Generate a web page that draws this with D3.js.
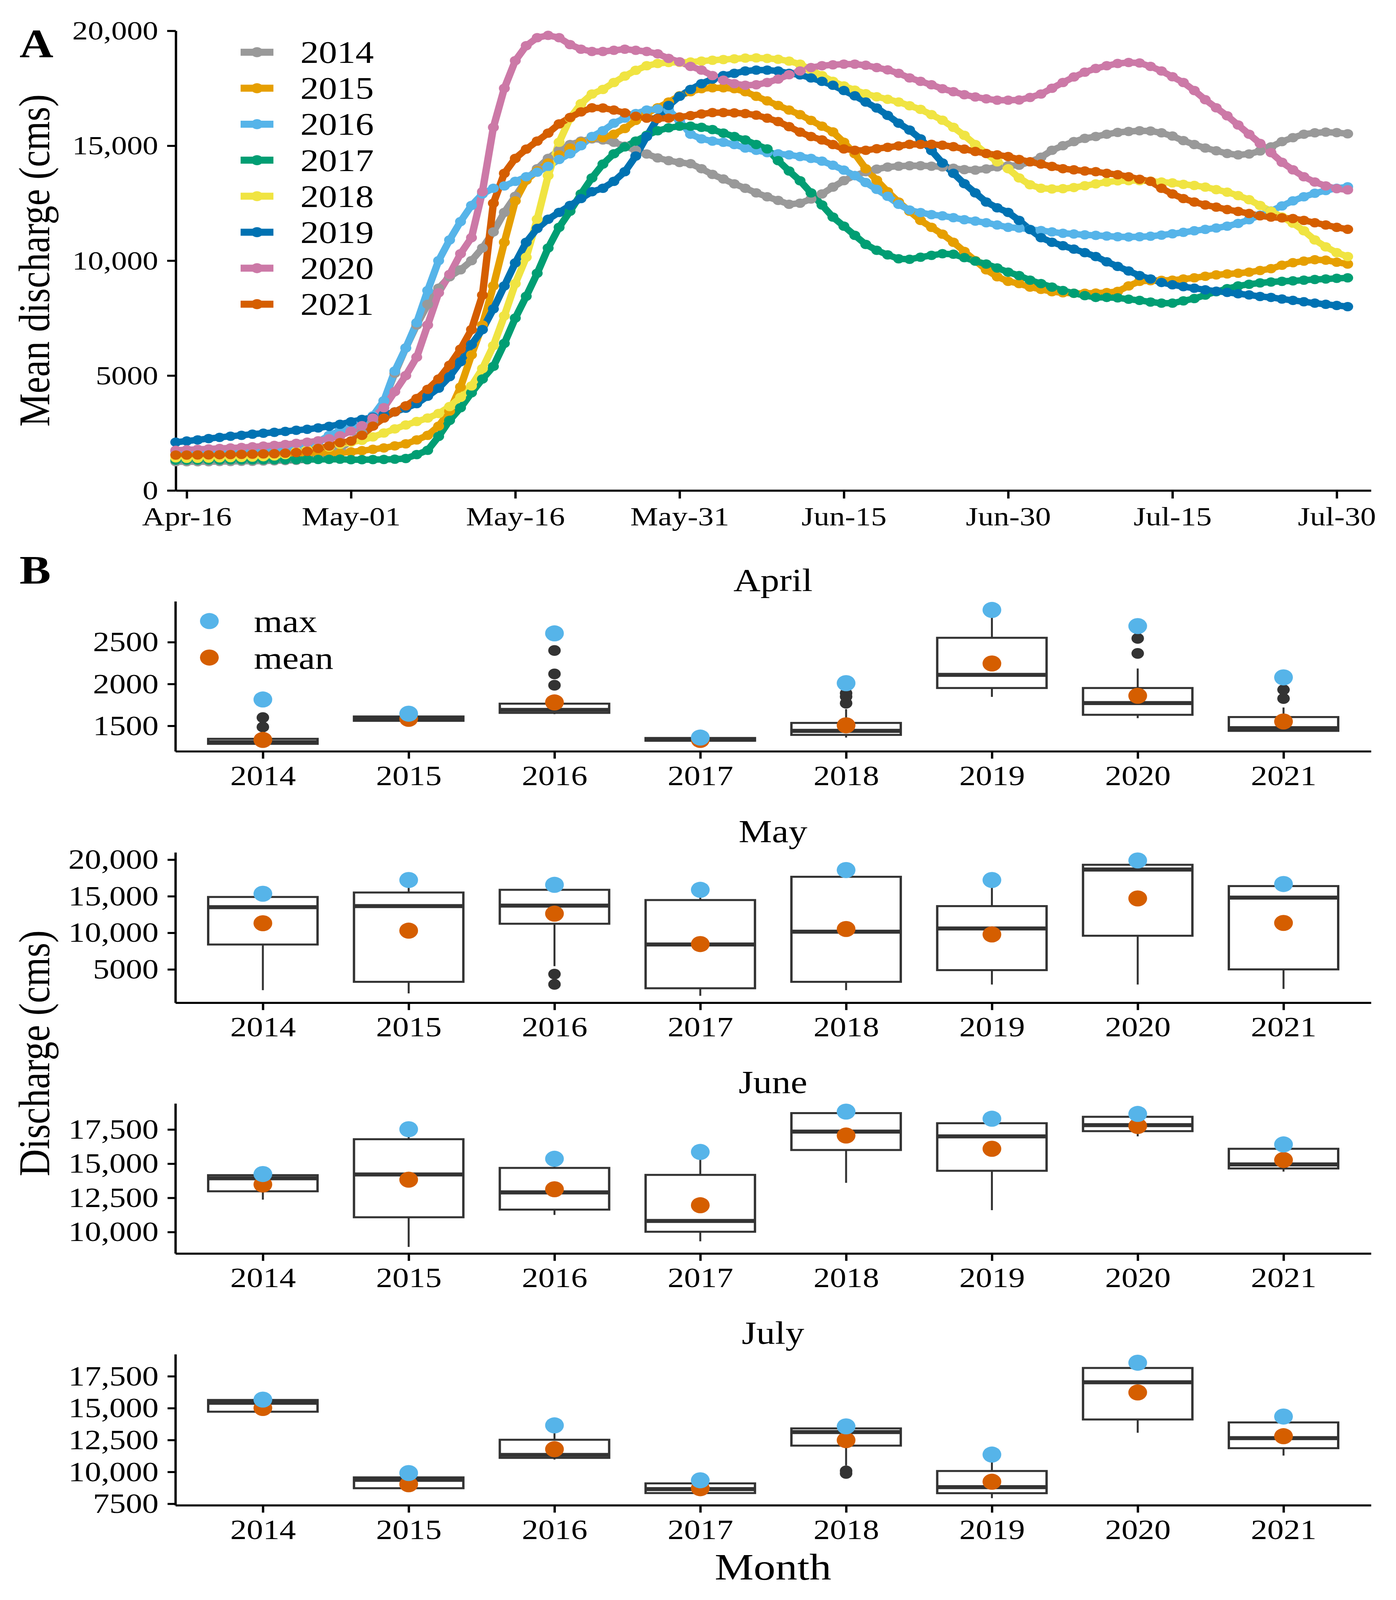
<!DOCTYPE html>
<html><head><meta charset="utf-8">
<script src="https://cdn.jsdelivr.net/npm/d3@7"></script>
<style>html,body{margin:0;padding:0;background:#fff;overflow:hidden} svg{display:block;width:100vw;height:100vh} text{font-family:"Liberation Serif","Times New Roman",serif;}</style>
</head><body>
<svg id="c" viewBox="0 0 3574 4779" preserveAspectRatio="none" xmlns="http://www.w3.org/2000/svg"></svg>
<script>
// ---------- DATA ----------
const years = ["2014","2015","2016","2017","2018","2019","2020","2021"];
const yearColors = ["#999999","#E69F00","#56B4E9","#009E73","#F0E442","#0072B2","#CC79A7","#D55E00"];

// daily mean discharge, Apr-15 (day 0) .. Jul-31 (day 107)
const q2014 = [1250,1250,1250,1250,1260,1260,1270,1270,1280,1290,1300,1310,1330,
 1490,1600,1810,2150,2500,3000,3900,5100,6200,7200,8100,
 8800,9300,9600,10000,10550,11250,12100,12800,13500,14000,14450,14800,15050,15200,15300,
 15250,15150,14980,14800,14640,14470,14350,14270,14220,14000,13750,13550,13340,13150,12950,12780,12620,12450,
 12500,12680,12900,13200,13480,13700,13870,13980,14070,14110,14130,14130,14110,14080,14020,13960,13940,13990,14080,14130,14150,
 14300,14500,14800,15000,15180,15320,15400,15500,15580,15620,15650,15640,15560,15420,15220,15050,14900,14780,14660,14600,14640,14770,14950,15180,15350,15500,15560,15590,15570,15520];
const q2015 = [1560,1560,1570,1570,1580,1580,1580,1590,1590,1590,1600,1600,1610,1610,1620,1630,
 1680,1730,1790,1850,1940,2030,2200,2400,2800,3450,4500,5900,7200,8900,10800,12600,
 13500,13900,14250,14600,14900,15150,15350,15350,15500,15750,16100,16400,16650,16900,17170,
 17350,17480,17520,17520,17480,17350,17150,16950,16750,16550,16350,16100,15850,15600,15150,14650,14000,13500,13000,12550,12150,11750,11450,11150,10800,10400,10000,9600,9300,9100,
 9000,8850,8750,8650,8600,8580,8580,8590,8610,8660,8900,9100,9130,9140,9150,9200,9250,9320,9380,9420,9450,9500,9570,9650,9800,9910,9980,10040,10020,9930,9850];
const q2016 = [1700,1690,1680,1680,1690,1700,1710,1720,1730,1740,1750,1780,1980,2120,2400,2600,
 2750,2950,3250,3900,5200,6200,7300,8700,10000,10900,11700,12400,12900,13150,13250,13450,
 13650,13850,14100,14400,14650,15000,15400,15650,15980,16200,16400,16550,16600,16550,16100,
 15500,15300,15200,15150,15050,14900,14800,14700,14650,14600,14530,14450,14330,14150,13940,13700,13400,13100,12800,12450,12200,12090,12000,11950,11870,11780,11720,11650,11550,11450,
 11420,11360,11310,11250,11190,11160,11120,11100,11070,11040,11030,11040,11060,11110,11170,11230,11300,11360,11420,11500,11620,11780,11980,12160,12380,12600,12780,12930,13050,13150,13210];
const q2017 = [1320,1320,1320,1325,1325,1330,1330,1330,1335,1335,1340,1340,1345,1350,1355,1360,
 1340,1340,1345,1350,1360,1390,1560,1750,2350,3050,3600,4250,4850,5400,6400,7500,
 8450,9450,10550,11450,12150,12900,13600,14200,14650,14950,15200,15450,15650,15780,15850,
 15850,15800,15700,15550,15400,15250,15050,14860,14350,13900,13475,12950,12420,11893,11500,11100,10705,10450,10250,10080,10060,10150,10230,10300,10280,10130,9980,9850,9680,9500,
 9350,9150,9000,8850,8700,8580,8480,8400,8400,8380,8320,8270,8200,8150,8150,8250,8350,8500,8650,8780,8900,8970,9030,9070,9100,9120,9150,9180,9200,9230,9250];
const q2018 = [1420,1400,1400,1410,1420,1430,1440,1450,1470,1500,1560,1700,1770,1850,1890,2010,
 2100,2180,2330,2500,2680,2850,3000,3150,3350,3650,4050,4550,5300,6300,7600,9000,
 10150,11800,13700,15150,16200,16830,17250,17450,17750,18030,18280,18480,18580,18620,18630,
 18640,18680,18720,18750,18780,18810,18820,18800,18760,18680,18550,18300,18050,17800,17600,17420,17260,17130,17020,16900,16740,16580,16350,16110,15800,15450,15050,14660,14300,14000,
 13600,13300,13150,13120,13130,13180,13260,13340,13420,13470,13480,13480,13460,13420,13380,13320,13270,13200,13090,12980,12830,12650,12400,12150,11900,11630,11300,10900,10600,10350,10180];
const q2019 = [2100,2150,2200,2260,2310,2360,2400,2450,2490,2530,2570,2620,2660,2720,2790,2880,
 2990,3090,3190,3300,3420,3580,3780,4100,4450,4950,5600,6350,7000,7900,8900,9900,
 10800,11400,11800,12100,12400,12700,13000,13150,13450,13870,14550,15400,16200,16750,17150,
 17450,17700,17900,18050,18150,18250,18290,18290,18250,18150,18080,17950,17800,17630,17400,17170,16900,16640,16320,15980,15680,15300,14790,14250,13800,13350,12950,12550,12300,12100,
 11750,11350,11000,10800,10650,10500,10350,10180,9950,9750,9550,9350,9200,9050,8950,8870,8800,8730,8670,8620,8560,8510,8440,8400,8330,8270,8210,8150,8100,8050,8000];
const q2020 = [1750,1770,1790,1810,1830,1850,1870,1900,1930,1960,2000,2050,2100,2160,2250,2380,
 2580,2820,3150,3600,4300,5000,5800,7200,8600,9400,10300,11000,13000,15800,17500,18700,
 19350,19700,19800,19700,19400,19200,19100,
 19100,19150,19200,19150,19100,19000,18800,18650,
 18450,18290,18050,17850,17700,17630,17650,17750,17900,18090,18250,18400,18480,18520,18550,18550,18500,18400,18300,18150,17950,17800,17650,17480,17350,17220,17120,17040,16980,16980,
 16990,17100,17250,17500,17750,17990,18200,18360,18480,18580,18620,18600,18450,18250,18000,17750,17400,17000,16650,16300,15900,15500,15100,14700,14280,13950,13650,13420,13250,13130,13080];
const q2021 = [1540,1540,1545,1550,1555,1560,1570,1580,1590,1600,1620,1650,1700,1830,1930,2080,
 2150,2400,2800,3150,3420,3680,4000,4400,4850,5450,6150,7000,8500,12500,13800,14450,
 14850,15200,15550,15950,16230,16470,16650,16640,16550,16430,16280,16200,16180,16200,16250,
 16310,16380,16440,16440,16430,16400,16330,16200,16050,15830,15590,15400,15250,15050,14860,14800,14800,14870,14930,14990,15060,15060,15060,15020,14960,14850,14750,14660,14600,14530,
 14400,14300,14200,14100,14000,13950,13900,13870,13800,13740,13650,13540,13450,13150,12900,12700,12550,12420,12330,12220,12140,12050,11950,11893,11860,11830,11750,11650,11550,11450,11365];
const seriesA = [q2014,q2015,q2016,q2017,q2018,q2019,q2020,q2021];

const xTickDays = [1,16,31,46,61,76,91,106];
const xTickLabels = ["Apr-16","May-01","May-16","May-31","Jun-15","Jun-30","Jul-15","Jul-30"];
const yTicksA = [0,5000,10000,15000,20000];
const yTickLabelsA = ["0","5000","10,000","15,000","20,000"];

// monthly box statistics (whisker low, Q1, median, Q3, whisker high, outliers, mean, max)
const aprilBox = [
 {lo:1262,q1:1285,med:1305,q3:1345,hi:1350,out:[1486,1599,1815],mean:1332,max:1815},
 {lo:1555,q1:1560,med:1590,q3:1612,hi:1620,out:[],mean:1584,max:1645},
 {lo:1640,q1:1655,med:1690,q3:1765,hi:1770,out:[1985,2120,2400,2605],mean:1780,max:2605},
 {lo:1318,q1:1322,med:1335,q3:1355,hi:1358,out:[],mean:1332,max:1360},
 {lo:1360,q1:1392,med:1440,q3:1535,hi:1700,out:[1770,1850,1890,2010],mean:1506,max:2010},
 {lo:1846,q1:1952,med:2109,q3:2552,hi:2880,out:[],mean:2245,max:2885},
 {lo:1592,q1:1632,med:1772,q3:1952,hi:2185,out:[2365,2545,2692],mean:1859,max:2692},
 {lo:1432,q1:1440,med:1472,q3:1605,hi:1719,out:[1826,1932,2079],mean:1552,max:2079}];
const mayBox = [
 {lo:2160,q1:8400,med:13500,q3:14900,hi:15340,out:[],mean:11310,max:15340},
 {lo:1720,q1:3300,med:13650,q3:15510,hi:17220,out:[],mean:10300,max:17220},
 {lo:5440,q1:11240,med:13720,q3:15880,hi:16560,out:[4350,2950],mean:12620,max:16560},
 {lo:1390,q1:2420,med:8400,q3:14480,hi:15880,out:[],mean:8460,max:15880},
 {lo:2160,q1:3300,med:10150,q3:17660,hi:18580,out:[],mean:10520,max:18580},
 {lo:2930,q1:4900,med:10590,q3:13650,hi:17220,out:[],mean:9780,max:17220},
 {lo:2930,q1:9600,med:18650,q3:19300,hi:19890,out:[],mean:14700,max:19890},
 {lo:2330,q1:5000,med:14810,q3:16390,hi:16670,out:[],mean:11350,max:16670}];
const juneBox = [
 {lo:12370,q1:12980,med:13930,q3:14160,hi:14240,out:[],mean:13480,max:14240},
 {lo:8910,q1:11080,med:14210,q3:16790,hi:17520,out:[],mean:13830,max:17520},
 {lo:11250,q1:11640,med:12900,q3:14690,hi:15360,out:[],mean:13130,max:15360},
 {lo:9320,q1:10020,med:10810,q3:14180,hi:15860,out:[],mean:11960,max:15860},
 {lo:13600,q1:16000,med:17350,q3:18700,hi:18810,out:[],mean:17060,max:18810},
 {lo:11600,q1:14480,med:17000,q3:17960,hi:18290,out:[],mean:16090,max:18290},
 {lo:17000,q1:17380,med:17820,q3:18430,hi:18640,out:[],mean:17760,max:18640},
 {lo:14420,q1:14650,med:14950,q3:16090,hi:16410,out:[],mean:15270,max:16410}];
const julyBox = [
 {lo:14470,q1:14720,med:15420,q3:15640,hi:15670,out:[],mean:15010,max:15670},
 {lo:8560,q1:8720,med:9380,q3:9570,hi:9910,out:[],mean:9030,max:9910},
 {lo:10970,q1:11100,med:11330,q3:12520,hi:13650,out:[],mean:11780,max:13650},
 {lo:8330,q1:8340,med:8650,q3:9100,hi:9340,out:[],mean:8720,max:9340},
 {lo:10500,q1:12060,med:13120,q3:13410,hi:13570,out:[10080,9880],mean:12490,max:13570},
 {lo:7940,q1:8330,med:8800,q3:10070,hi:11360,out:[],mean:9230,max:11360},
 {lo:13070,q1:14110,med:17030,q3:18150,hi:18560,out:[],mean:16230,max:18560},
 {lo:11280,q1:11860,med:12650,q3:13880,hi:14340,out:[],mean:12800,max:14340}];

const monthNames = ["April","May","June","July"];
const aprTicks = [1500,2000,2500], aprTickLabels = ["1500","2000","2500"];
const mayTicks = [5000,10000,15000,20000], mayTickLabels = ["5000","10,000","15,000","20,000"];
const junTicks = [10000,12500,15000,17500], junTickLabels = ["10,000","12,500","15,000","17,500"];
const julTicks = [7500,10000,12500,15000,17500], julTickLabels = ["7500","10,000","12,500","15,000","17,500"];

// ---------- DRAW ----------
const svg = d3.select("#c");
svg.append("rect").attr("width",3574).attr("height",4779).attr("fill","#fff");

function styleAxis(g, fs){
  g.select(".domain").attr("stroke","#000").attr("stroke-width",6);
  g.selectAll(".tick line").attr("stroke","#000").attr("stroke-width",6);
  g.selectAll(".tick text").attr("fill","#000").attr("font-size",fs)
    .attr("font-family","Liberation Serif, Times New Roman, serif");
}

// Panel A
const xA = d3.scaleLinear().domain([0,109.13]).range([450,3510]);
const yA = d3.scaleLinear().domain([0,20000]).range([1465,92]);
const gA = svg.append("g");
const ax1 = gA.append("g").attr("transform","translate(0,1465)")
  .call(d3.axisBottom(xA).tickValues(xTickDays).tickFormat((d,i)=>xTickLabels[i]).tickSize(24).tickSizeOuter(0).tickPadding(23));
styleAxis(ax1,80);
const ay1 = gA.append("g").attr("transform","translate(450,0)")
  .call(d3.axisLeft(yA).tickValues(yTicksA).tickFormat((d,i)=>yTickLabelsA[i]).tickSize(22).tickSizeOuter(0).tickPadding(23));
styleAxis(ay1,80);

const line = d3.line().x((d,i)=>xA(i)).y(d=>yA(d));
seriesA.forEach((s,k)=>{
  gA.append("path").attr("d",line(s)).attr("fill","none").attr("stroke",yearColors[k])
    .attr("stroke-width",19).attr("stroke-linejoin","round").attr("stroke-linecap","round");
});
seriesA.forEach((s,k)=>{
  gA.append("g").selectAll("circle").data(s).join("circle")
    .attr("cx",(d,i)=>xA(i)).attr("cy",d=>yA(d)).attr("r",14).attr("fill",yearColors[k]);
});
// legend A
years.forEach((yr,i)=>{
  const cy = 156 + 107.5*i;
  gA.append("line").attr("x1",616).attr("x2",700).attr("y1",cy).attr("y2",cy)
    .attr("stroke",yearColors[i]).attr("stroke-width",21);
  gA.append("circle").attr("cx",658).attr("cy",cy).attr("r",15).attr("fill",yearColors[i]);
  gA.append("text").attr("x",769).attr("y",cy+32).attr("font-size",94).text(yr);
});
gA.append("text").attr("x",50).attr("y",172).attr("font-size",120).attr("font-weight","bold").text("A");
gA.append("text").attr("transform","translate(126,778) rotate(-90)").attr("text-anchor","middle")
  .attr("font-size",112).text("Mean discharge (cms)");

// Panel B
svg.append("text").attr("x",50).attr("y",1743).attr("font-size",120).attr("font-weight","bold").text("B");
const xB = d3.scalePoint().domain(years).range([449,3510]).padding(0.6);
const boxW = xB.step()*0.75;
const panels = [
  {name:"April", data:aprilBox, top:1796, bottom:2244, domain:[1196,2988], ticks:aprTicks, labels:aprTickLabels},
  {name:"May", data:mayBox, top:2546, bottom:2995, domain:[444,20993], ticks:mayTicks, labels:mayTickLabels},
  {name:"June", data:juneBox, top:3296, bottom:3744, domain:[8430,19403], ticks:junTicks, labels:junTickLabels},
  {name:"July", data:julyBox, top:4045, bottom:4496, domain:[7384,19225], ticks:julTicks, labels:julTickLabels}
];
panels.forEach((p,pi)=>{
  const g = svg.append("g");
  const y = d3.scaleLinear().domain(p.domain).range([p.bottom,p.top]);
  g.append("text").attr("x",1979).attr("y",p.top-31).attr("text-anchor","middle").attr("font-size",96).text(monthNames[pi]);
  const ax = g.append("g").attr("transform",`translate(0,${p.bottom})`)
    .call(d3.axisBottom(xB).tickSize(22).tickSizeOuter(0).tickPadding(19));
  styleAxis(ax,84);
  const ay = g.append("g").attr("transform","translate(449,0)")
    .call(d3.axisLeft(y).tickValues(p.ticks).tickFormat((d,i)=>p.labels[i]).tickSize(20).tickSizeOuter(0).tickPadding(23));
  styleAxis(ay,84);
  p.data.forEach((b,i)=>{
    const cx = xB(years[i]);
    const bg = g.append("g");
    bg.append("line").attr("x1",cx).attr("x2",cx).attr("y1",y(b.lo)).attr("y2",y(b.q1)).attr("stroke","#333").attr("stroke-width",5);
    bg.append("line").attr("x1",cx).attr("x2",cx).attr("y1",y(b.q3)).attr("y2",y(b.hi)).attr("stroke","#333").attr("stroke-width",5);
    bg.append("rect").attr("x",cx-boxW/2).attr("width",boxW).attr("y",y(b.q3)).attr("height",y(b.q1)-y(b.q3))
      .attr("fill","#fff").attr("stroke","#333").attr("stroke-width",6);
    bg.append("line").attr("x1",cx-boxW/2).attr("x2",cx+boxW/2).attr("y1",y(b.med)).attr("y2",y(b.med)).attr("stroke","#333").attr("stroke-width",12);
    b.out.forEach(o=>bg.append("circle").attr("cx",cx).attr("cy",y(o)).attr("r",16).attr("fill","#333"));
    bg.append("circle").attr("cx",cx).attr("cy",y(b.mean)).attr("r",24).attr("fill","#D55E00");
    bg.append("circle").attr("cx",cx).attr("cy",y(b.max)).attr("r",24).attr("fill","#56B4E9");
  });
});
// legend B
svg.append("circle").attr("cx",536).attr("cy",1855).attr("r",24).attr("fill","#56B4E9");
svg.append("circle").attr("cx",536).attr("cy",1964).attr("r",24).attr("fill","#D55E00");
svg.append("text").attr("x",650).attr("y",1888).attr("font-size",94).text("max");
svg.append("text").attr("x",650).attr("y",1997).attr("font-size",94).text("mean");
svg.append("text").attr("transform","translate(126,3146) rotate(-90)").attr("text-anchor","middle")
  .attr("font-size",112).text("Discharge (cms)");
svg.append("text").attr("x",1979).attr("y",4718).attr("text-anchor","middle").attr("font-size",112).text("Month");
</script>
</body></html>
